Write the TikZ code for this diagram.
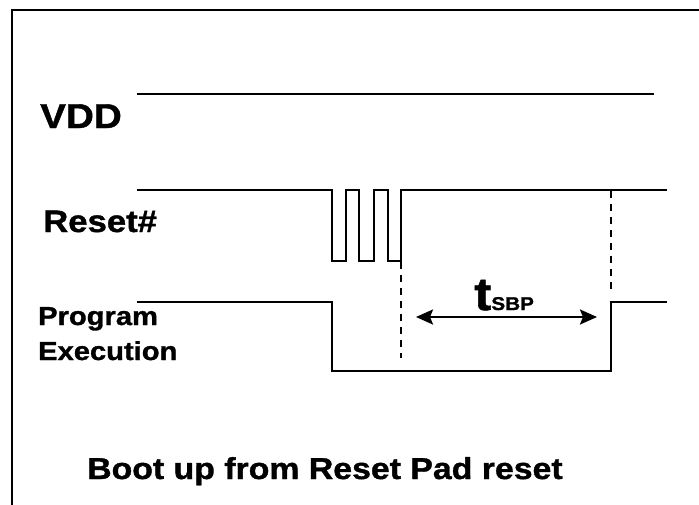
\documentclass[tikz,border=0pt]{standalone}
\usepackage{fontspec}
\setmainfont{Liberation Sans}[FakeStretch=1.12, BoldFeatures={FakeBold=1.2}]
\usetikzlibrary{arrows.meta}

\begin{document}
\begin{tikzpicture}[
  x=1pt, y=-1pt,
  sig/.style={line width=2pt, line join=miter},
  guide/.style={line width=1.6pt, dash pattern=on 7pt off 6pt},
  lbl/.style={inner sep=0pt, anchor=base west, font=\bfseries},
  >={Stealth[length=17pt, width=15pt, inset=3pt]}
]
  \clip (0,0) rectangle (699,504);
  \useasboundingbox (0,0) rectangle (699,504);

  % ================= FRAME =================
  \draw[line width=2pt] (12,10) rectangle (730,530);

  % ================= LABELS =================
  \node[lbl, font=\bfseries\fontsize{34.5}{36}\selectfont] (vdd) at (40,128) {VDD};
  \node[lbl, font=\bfseries\fontsize{31}{33}\selectfont] (rst) at (43,232) {Reset\#};
  \node[lbl, font=\bfseries\fontsize{26}{28}\selectfont] (prog) at (38,325) {Program};
  \node[lbl, font=\bfseries\fontsize{26}{28}\selectfont] (exec) at (38,360) {Execution};
  \node[lbl, font=\bfseries\fontsize{30.2}{32}\selectfont] (title) at (87,479)
    {Boot up from Reset Pad reset};

  % ================= WAVEFORMS =================
  % VDD
  \draw[sig] (137,94) -- (654,94);
  % Reset# with bounce pulses
  \draw[sig] (137,190) -- (332,190) -- (332,261) -- (346,261) -- (346,190)
    -- (359,190) -- (359,261) -- (374,261) -- (374,190)
    -- (388,190) -- (388,261) -- (401,261) -- (401,190) -- (667,190);
  % Program execution
  \draw[sig] (137,302) -- (332,302) -- (332,371) -- (611,371)
    -- (611,302) -- (667,302);

  % ================= TIMING =================
  \coordinate (relA) at (401,262);
  \coordinate (relB) at (401,358);
  \coordinate (runA) at (611,191);
  \coordinate (runB) at (611,290);
  \draw[guide] (relA) -- (relB);
  \draw[guide] (runA) -- (runB);

  \coordinate (tL) at (416,317);
  \coordinate (tR) at (597,317);
  \draw[<->, line width=2.4pt] (tL) -- (tR);
  \node[lbl] (tsbp) at (474,310)
    {\fontsize{46}{46}\selectfont t\fontsize{18.5}{20}\selectfont SBP};
\end{tikzpicture}
\end{document}
